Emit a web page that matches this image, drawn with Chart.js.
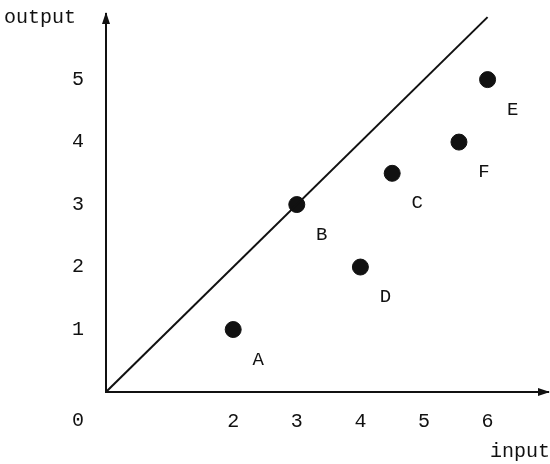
<!DOCTYPE html>
<html lang="en">
<head>
  <meta charset="UTF-8" />
  <title>Input vs Output</title>
  <script src="https://cdn.jsdelivr.net/npm/chart.js"></script>
  <style>
    body {
      margin: 0;
      padding: 0;
      background: #fff;
    }

    .chart-box {
      width: 550px;
      height: 464px;
    }
  </style>
</head>
<body>
  <div class="chart-box">
    <canvas id="ioChart"></canvas>
  </div>

  <script>
    // data
    const pointLabels = ['A', 'B', 'C', 'D', 'E', 'F'];
    const inputValues = [2, 3, 4.5, 4, 6, 5.55];
    const outputValues = [1, 3, 3.5, 2, 5, 4];
    const xTicks = [2, 3, 4, 5, 6];
    const yTicks = [1, 2, 3, 4, 5];
    const lineInput = [0, 6];
    const lineOutput = [0, 6];

    const ink = '#111';
    const fontFamily = "'Liberation Mono', 'Courier New', monospace";

    // arrows, axis names, "0" and the letters next to the dots
    const decorations = {
      id: 'decorations',
      afterDraw(chart) {
        const { ctx, chartArea, scales } = chart;
        const xs = scales.x, ys = scales.y;
        ctx.save();
        ctx.fillStyle = ink;

        // arrow heads
        const ox = chartArea.left, oy = chartArea.bottom;
        ctx.beginPath();
        ctx.moveTo(chartArea.right + 2, oy);
        ctx.lineTo(chartArea.right - 10, oy - 4);
        ctx.lineTo(chartArea.right - 10, oy + 4);
        ctx.closePath();
        ctx.fill();
        ctx.beginPath();
        ctx.moveTo(ox, chartArea.top - 2);
        ctx.lineTo(ox - 4, chartArea.top + 10);
        ctx.lineTo(ox + 4, chartArea.top + 10);
        ctx.closePath();
        ctx.fill();

        ctx.font = '20px ' + fontFamily;
        ctx.textBaseline = 'middle';
        ctx.textAlign = 'left';
        ctx.fillText('output', 4, 18);
        ctx.textAlign = 'right';
        ctx.fillText('input', 550, 452);
        ctx.textAlign = 'center';
        ctx.fillText('0', ox - 28, oy + 29);

        ctx.font = '19px ' + fontFamily;
        pointLabels.forEach((lbl, i) => {
          const px = xs.getPixelForValue(inputValues[i]);
          const py = ys.getPixelForValue(outputValues[i]);
          ctx.fillText(lbl, px + 25, py + 30);
        });
        ctx.restore();
      }
    };

    const ctx = document.getElementById('ioChart').getContext('2d');

    new Chart(ctx, {
      type: 'scatter',
      data: {
        datasets: [
          {
            type: 'line',
            data: lineInput.map((x, i) => ({ x: x, y: lineOutput[i] })),
            borderColor: ink,
            borderWidth: 2,
            pointRadius: 0,
            fill: false
          },
          {
            data: inputValues.map((x, i) => ({ x: x, y: outputValues[i] })),
            backgroundColor: ink,
            borderColor: ink,
            pointRadius: 8,
            pointHoverRadius: 8
          }
        ]
      },
      options: {
        responsive: true,
        maintainAspectRatio: false,
        animation: false,
        layout: {
          autoPadding: false,
          padding: { top: 14, right: 2, left: 0, bottom: 0 }
        },
        plugins: {
          legend: { display: false },
          tooltip: { enabled: false }
        },
        scales: {
          x: {
            type: 'linear',
            min: 0,
            max: 6.95,
            afterFit: s => {
              s.height = 72;
              s.paddingLeft = 0;
              s.paddingRight = 0;
            },
            afterBuildTicks: s => { s.ticks = xTicks.map(v => ({ value: v })); },
            grid: { display: false, drawTicks: false },
            border: { display: true, color: ink, width: 2 },
            ticks: {
              color: ink,
              padding: 18,
              autoSkip: false,
              maxRotation: 0,
              font: { family: fontFamily, size: 20 }
            }
          },
          y: {
            type: 'linear',
            min: 0,
            max: 6.05,
            afterFit: s => {
              s.width = 106;
              s.paddingTop = 0;
              s.paddingBottom = 0;
            },
            afterBuildTicks: s => { s.ticks = yTicks.map(v => ({ value: v })); },
            grid: { display: false, drawTicks: false },
            border: { display: true, color: ink, width: 2 },
            ticks: {
              color: ink,
              padding: 22,
              autoSkip: false,
              font: { family: fontFamily, size: 20 }
            }
          }
        }
      },
      plugins: [decorations]
    });
  </script>
</body>
</html>
